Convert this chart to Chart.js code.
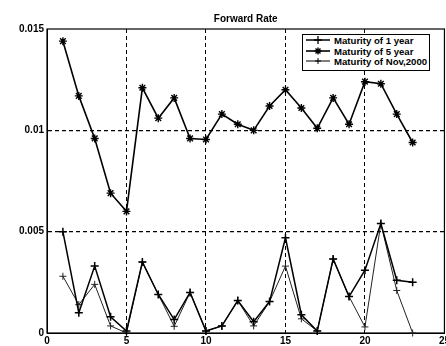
<!DOCTYPE html>
<html>
<head>
<meta charset="utf-8">
<script src="https://cdn.jsdelivr.net/npm/chart.js@4/dist/chart.umd.min.js"></script>
<style>
  body { margin: 0; background: #fff; overflow: hidden; }
  #wrap { position: relative; width: 446px; height: 346px; overflow: hidden; }
  #legend {
    position: absolute; left: 302px; top: 34px; width: 126px; height: 34px;
    border: 1px solid #000; background: #fff; padding-top: 1px;
    font: bold 9.6px "Liberation Sans", Arial, sans-serif; color: #000;
  }
  #legend .row { height: 10.5px; line-height: 10.5px; white-space: nowrap; }
  #legend svg { vertical-align: middle; margin-left: 2px; margin-right: 3px; position: relative; top: -1px; }
</style>
</head>
<body>
<div id="wrap">
  <!-- canvas a bit wider than the window so the last x label gets cut like in the scan -->
  <canvas id="chart" width="452" height="346"></canvas>
  <div id="legend"></div>
</div>
<script>
const xValues = [1, 2, 3, 4, 5, 6, 7, 8, 9, 10, 11, 12, 13, 14, 15, 16, 17, 18, 19, 20, 21, 22, 23];

const oneYear = [0.0050, 0.0010, 0.0033, 0.0008, 0.0001, 0.0035, 0.0019, 0.00066, 0.0020, 0.0001, 0.00035, 0.0016,
    0.00056, 0.00155, 0.0047, 0.0009, 0.0001, 0.00365, 0.0018, 0.0031, 0.0054, 0.0026, 0.0025];
const fiveYear = [0.0144, 0.0117, 0.0096, 0.0069, 0.0060, 0.0121, 0.0106, 0.0116, 0.0096, 0.00955, 0.0108, 0.0103,
    0.0100, 0.0112, 0.0120, 0.0111, 0.0101, 0.0116, 0.0103, 0.0124, 0.0123, 0.0108, 0.0094];
const nov2000 = [0.0028, 0.0014, 0.0024, 0.00035, 0.0000, 0.0035, 0.0019, 0.00033, 0.0020, 0.0001, 0.00035, 0.0016,
    0.00035, 0.00155, 0.0033, 0.0007, 0.0001, 0.00365, 0.0018, 0.0003, 0.0054, 0.0021, 0.0000];

const seriesNames = ['Maturity of 1 year', 'Maturity of 5 year', 'Maturity of Nov,2000'];
const xTicks = [0, 5, 10, 15, 20, 25];
const yTicks = [0, 0.005, 0.01, 0.015];
const yTickLabels = ['0', '0.005', '0.01', '0.015'];

const FONT = { family: '"Liberation Sans", Arial, sans-serif', size: 10, weight: 'bold' };

function toPoints(values) {
    return xValues.map((x, i) => ({ x: x, y: values[i] }));
}

// draw the box round the axes like matlab does
const frame = {
    id: 'frame',
    beforeDatasetsDraw(chart) {
        const a = chart.chartArea;
        const ctx = chart.ctx;
        ctx.save();
        ctx.strokeStyle = '#000';
        ctx.lineWidth = 1.2;
        ctx.strokeRect(a.left, a.top, a.right - a.left, a.bottom - a.top);
        ctx.restore();
    }
};

const gridColor = (edges) => (ctx) => {
    if (ctx.tick && edges.includes(ctx.tick.value)) return 'rgba(0,0,0,0)';
    return '#000';
};

new Chart(document.getElementById('chart'), {
    type: 'line',
    data: {
        datasets: [
            {
                label: seriesNames[0], data: toPoints(oneYear),
                borderColor: '#000', backgroundColor: '#000', borderWidth: 1.5,
                pointStyle: 'cross', pointRadius: 4, pointBorderWidth: 1.5, clip: false
            },
            {
                label: seriesNames[1], data: toPoints(fiveYear),
                borderColor: '#000', backgroundColor: '#000', borderWidth: 1.6,
                pointStyle: 'star', pointRadius: 4, pointBorderWidth: 1.4, clip: false
            },
            {
                label: seriesNames[2], data: toPoints(nov2000),
                borderColor: '#222', backgroundColor: '#222', borderWidth: 1,
                pointStyle: 'cross', pointRadius: 3.5, pointBorderWidth: 1, clip: false
            }
        ]
    },
    options: {
        responsive: false,
        animation: false,
        layout: { padding: { left: 0, right: 0, top: 0, bottom: 0 } },
        plugins: {
            legend: { display: false },
            tooltip: { enabled: false },
            title: {
                display: true, text: 'Forward Rate', fullSize: false, color: '#000',
                font: FONT, padding: { top: 13, bottom: 4 }
            }
        },
        scales: {
            x: {
                type: 'linear', min: 0, max: 25,
                afterBuildTicks: (scale) => { scale.ticks = xTicks.map(v => ({ value: v })); },
                afterFit: (scale) => { scale.height = 13; },
                ticks: { color: '#000', font: FONT, padding: 2, maxRotation: 0, autoSkip: false },
                grid: { color: gridColor([0, 25]), drawTicks: false, lineWidth: 1 },
                border: { display: true, color: '#000', dash: [4, 3] }
            },
            y: {
                min: 0, max: 0.015,
                afterBuildTicks: (scale) => { scale.ticks = yTicks.map(v => ({ value: v })); },
                afterFit: (scale) => { scale.width = 47; },
                ticks: {
                    color: '#000', font: FONT, padding: 3, autoSkip: false,
                    callback: (v, i) => yTickLabels[i]
                },
                grid: { color: gridColor([0, 0.015]), drawTicks: false, lineWidth: 1.2 },
                border: { display: true, color: '#000', dash: [4, 3] }
            }
        }
    },
    plugins: [frame]
});

// legend with line samples, placed inside the axes at top right
const markers = [
    '<path d="M13 1 V9 M9 5 H17" stroke="#000" stroke-width="1.3"/>',
    '<path d="M13 1.5 V8.5 M9.5 5 H16.5 M10.5 2.5 L15.5 7.5 M15.5 2.5 L10.5 7.5" stroke="#000" stroke-width="1.4"/>',
    '<path d="M13 2 V8 M10 5 H16" stroke="#000" stroke-width="1"/>'
];
const lineWidths = [1.5, 1.6, 1];
const legendEl = document.getElementById('legend');
legendEl.innerHTML = seriesNames.map((name, i) =>
    '<div class="row"><svg width="26" height="10" viewBox="0 0 26 10">' +
    '<line x1="1" y1="5" x2="25" y2="5" stroke="#000" stroke-width="' + lineWidths[i] + '"/>' +
    markers[i] + '</svg>' + name + '</div>'
).join('');
</script>
</body>
</html>
